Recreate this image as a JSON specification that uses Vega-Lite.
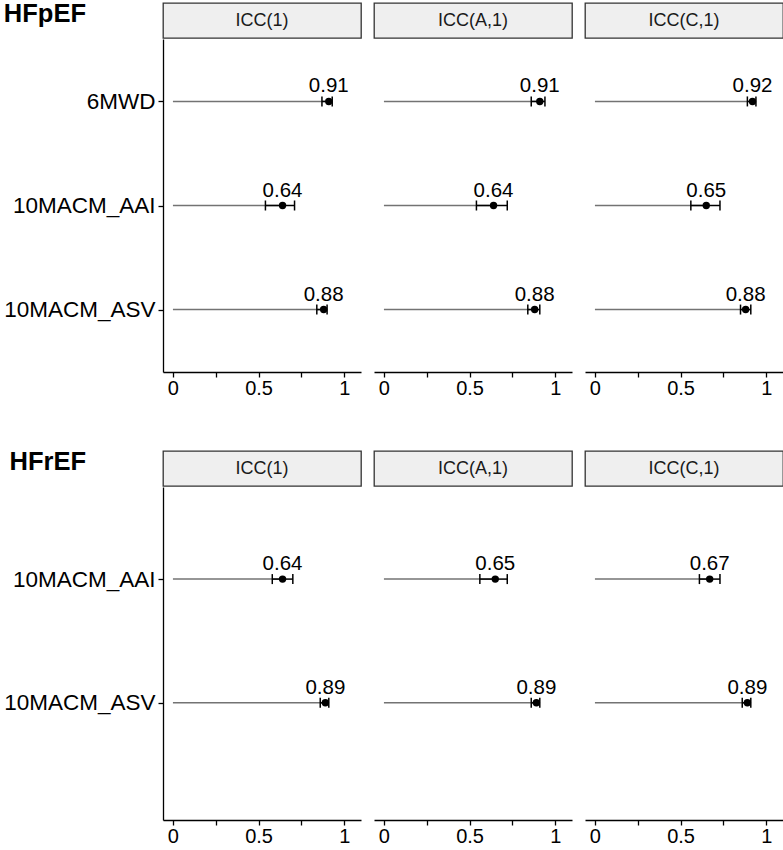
{
  "$schema": "https://vega.github.io/schema/vega-lite/v6.json",
  "background": "white",
  "padding": {"left": 3, "top": 1, "right": 0, "bottom": 0},
  "datasets": {
    "pef": [
      {"panel": "ICC(1)", "measure": "6MWD", "icc": 0.91, "lo": 0.87, "hi": 0.93},
      {"panel": "ICC(1)", "measure": "10MACM_AAI", "icc": 0.64, "lo": 0.54, "hi": 0.71},
      {"panel": "ICC(1)", "measure": "10MACM_ASV", "icc": 0.88, "lo": 0.84, "hi": 0.9},
      {"panel": "ICC(A,1)", "measure": "6MWD", "icc": 0.91, "lo": 0.86, "hi": 0.94},
      {"panel": "ICC(A,1)", "measure": "10MACM_AAI", "icc": 0.64, "lo": 0.54, "hi": 0.72},
      {"panel": "ICC(A,1)", "measure": "10MACM_ASV", "icc": 0.88, "lo": 0.84, "hi": 0.91},
      {"panel": "ICC(C,1)", "measure": "6MWD", "icc": 0.92, "lo": 0.89, "hi": 0.94},
      {"panel": "ICC(C,1)", "measure": "10MACM_AAI", "icc": 0.65, "lo": 0.56, "hi": 0.73},
      {"panel": "ICC(C,1)", "measure": "10MACM_ASV", "icc": 0.88, "lo": 0.85, "hi": 0.91}
    ],
    "ref": [
      {"panel": "ICC(1)", "measure": "10MACM_AAI", "icc": 0.64, "lo": 0.58, "hi": 0.7},
      {"panel": "ICC(1)", "measure": "10MACM_ASV", "icc": 0.89, "lo": 0.86, "hi": 0.91},
      {"panel": "ICC(A,1)", "measure": "10MACM_AAI", "icc": 0.65, "lo": 0.56, "hi": 0.72},
      {"panel": "ICC(A,1)", "measure": "10MACM_ASV", "icc": 0.89, "lo": 0.86, "hi": 0.91},
      {"panel": "ICC(C,1)", "measure": "10MACM_AAI", "icc": 0.67, "lo": 0.61, "hi": 0.73},
      {"panel": "ICC(C,1)", "measure": "10MACM_ASV", "icc": 0.89, "lo": 0.86, "hi": 0.91}
    ]
  },
  "spacing": 51,
  "vconcat": [
    {
      "spacing": 11,
      "hconcat": [
        {
          "spacing": 0,
          "vconcat": [
            {"width": 198, "height": 35, "title": {"text": "HFpEF", "orient": "left", "angle": 0, "align": "left", "anchor": "middle", "baseline": "alphabetic", "offset": 77, "dy": 1.5, "fontSize": 25.5, "fontWeight": "bold", "color": "black"}, "view": {"fill": "#efefef", "stroke": "#333333", "strokeWidth": 1.3}, "data": {"values": [{"panel": "ICC(1)"}]}, "mark": {"type": "text", "fontSize": 18, "color": "#1a1a1a"}, "encoding": {"text": {"field": "panel", "type": "nominal"}}},
            {
              "width": 198, "height": 333,
              "data": {"name": "pef"},
              "transform": [{"filter": "datum.panel == 'ICC(1)'"}],
              "encoding": {"y": {"field": "measure", "type": "nominal", "sort": null, "title": null, "scale": {"type": "point", "padding": 0.6, "domain": ["6MWD", "10MACM_AAI", "10MACM_ASV"]}}},
              "layer": [
                {"mark": {"type": "rule", "color": "#737373", "strokeWidth": 1.5}, "encoding": {"x": {"field": "icc", "type": "quantitative", "title": null, "scale": {"domain": [-0.058, 1.098], "nice": false, "zero": false}, "axis": {"values": [0, 0.25, 0.5, 0.75, 1], "format": "~g", "labelExpr": "datum.value == 0.25 || datum.value == 0.75 ? '' : datum.label"}}, "x2": {"datum": 0}}},
                {"mark": {"type": "rule", "color": "black", "strokeWidth": 1.5}, "encoding": {"x": {"field": "lo", "type": "quantitative", "title": null}, "x2": {"field": "hi"}}},
                {"mark": {"type": "tick", "color": "black", "thickness": 1.5, "size": 10, "opacity": 1}, "encoding": {"x": {"field": "lo", "type": "quantitative", "title": null}}},
                {"mark": {"type": "tick", "color": "black", "thickness": 1.5, "size": 10, "opacity": 1}, "encoding": {"x": {"field": "hi", "type": "quantitative", "title": null}}},
                {"mark": {"type": "point", "filled": true, "color": "black", "size": 55, "opacity": 1}, "encoding": {"x": {"field": "icc", "type": "quantitative", "title": null}}},
                {"mark": {"type": "text", "dy": -9, "baseline": "alphabetic", "fontSize": 20.5, "color": "black"}, "encoding": {"x": {"field": "icc", "type": "quantitative", "title": null}, "text": {"field": "icc", "type": "quantitative", "format": ".2f"}}}
              ]
            }
          ]
        },
        {
          "spacing": 0,
          "vconcat": [
            {"width": 198, "height": 35, "view": {"fill": "#efefef", "stroke": "#333333", "strokeWidth": 1.3}, "data": {"values": [{"panel": "ICC(A,1)"}]}, "mark": {"type": "text", "fontSize": 18, "color": "#1a1a1a"}, "encoding": {"text": {"field": "panel", "type": "nominal"}}},
            {
              "width": 198, "height": 333,
              "data": {"name": "pef"},
              "transform": [{"filter": "datum.panel == 'ICC(A,1)'"}],
              "encoding": {"y": {"field": "measure", "type": "nominal", "sort": null, "title": null, "axis": null, "scale": {"type": "point", "padding": 0.6, "domain": ["6MWD", "10MACM_AAI", "10MACM_ASV"]}}},
              "layer": [
                {"mark": {"type": "rule", "color": "#737373", "strokeWidth": 1.5}, "encoding": {"x": {"field": "icc", "type": "quantitative", "title": null, "scale": {"domain": [-0.058, 1.098], "nice": false, "zero": false}, "axis": {"values": [0, 0.25, 0.5, 0.75, 1], "format": "~g", "labelExpr": "datum.value == 0.25 || datum.value == 0.75 ? '' : datum.label"}}, "x2": {"datum": 0}}},
                {"mark": {"type": "rule", "color": "black", "strokeWidth": 1.5}, "encoding": {"x": {"field": "lo", "type": "quantitative", "title": null}, "x2": {"field": "hi"}}},
                {"mark": {"type": "tick", "color": "black", "thickness": 1.5, "size": 10, "opacity": 1}, "encoding": {"x": {"field": "lo", "type": "quantitative", "title": null}}},
                {"mark": {"type": "tick", "color": "black", "thickness": 1.5, "size": 10, "opacity": 1}, "encoding": {"x": {"field": "hi", "type": "quantitative", "title": null}}},
                {"mark": {"type": "point", "filled": true, "color": "black", "size": 55, "opacity": 1}, "encoding": {"x": {"field": "icc", "type": "quantitative", "title": null}}},
                {"mark": {"type": "text", "dy": -9, "baseline": "alphabetic", "fontSize": 20.5, "color": "black"}, "encoding": {"x": {"field": "icc", "type": "quantitative", "title": null}, "text": {"field": "icc", "type": "quantitative", "format": ".2f"}}}
              ]
            }
          ]
        },
        {
          "spacing": 0,
          "vconcat": [
            {"width": 198, "height": 35, "view": {"fill": "#efefef", "stroke": "#333333", "strokeWidth": 1.3}, "data": {"values": [{"panel": "ICC(C,1)"}]}, "mark": {"type": "text", "fontSize": 18, "color": "#1a1a1a"}, "encoding": {"text": {"field": "panel", "type": "nominal"}}},
            {
              "width": 198, "height": 333,
              "data": {"name": "pef"},
              "transform": [{"filter": "datum.panel == 'ICC(C,1)'"}],
              "encoding": {"y": {"field": "measure", "type": "nominal", "sort": null, "title": null, "axis": null, "scale": {"type": "point", "padding": 0.6, "domain": ["6MWD", "10MACM_AAI", "10MACM_ASV"]}}},
              "layer": [
                {"mark": {"type": "rule", "color": "#737373", "strokeWidth": 1.5}, "encoding": {"x": {"field": "icc", "type": "quantitative", "title": null, "scale": {"domain": [-0.058, 1.098], "nice": false, "zero": false}, "axis": {"values": [0, 0.25, 0.5, 0.75, 1], "format": "~g", "labelExpr": "datum.value == 0.25 || datum.value == 0.75 ? '' : datum.label"}}, "x2": {"datum": 0}}},
                {"mark": {"type": "rule", "color": "black", "strokeWidth": 1.5}, "encoding": {"x": {"field": "lo", "type": "quantitative", "title": null}, "x2": {"field": "hi"}}},
                {"mark": {"type": "tick", "color": "black", "thickness": 1.5, "size": 10, "opacity": 1}, "encoding": {"x": {"field": "lo", "type": "quantitative", "title": null}}},
                {"mark": {"type": "tick", "color": "black", "thickness": 1.5, "size": 10, "opacity": 1}, "encoding": {"x": {"field": "hi", "type": "quantitative", "title": null}}},
                {"mark": {"type": "point", "filled": true, "color": "black", "size": 55, "opacity": 1}, "encoding": {"x": {"field": "icc", "type": "quantitative", "title": null}}},
                {"mark": {"type": "text", "dy": -9, "baseline": "alphabetic", "fontSize": 20.5, "color": "black"}, "encoding": {"x": {"field": "icc", "type": "quantitative", "title": null}, "text": {"field": "icc", "type": "quantitative", "format": ".2f"}}}
              ]
            }
          ]
        }
      ]
    },
    {
      "spacing": 11,
      "hconcat": [
        {
          "spacing": 0,
          "vconcat": [
            {"width": 198, "height": 35, "title": {"text": "HFrEF", "orient": "left", "angle": 0, "align": "left", "anchor": "middle", "baseline": "alphabetic", "offset": 77, "dy": 1.5, "fontSize": 25.5, "fontWeight": "bold", "color": "black"}, "view": {"fill": "#efefef", "stroke": "#333333", "strokeWidth": 1.3}, "data": {"values": [{"panel": "ICC(1)"}]}, "mark": {"type": "text", "fontSize": 18, "color": "#1a1a1a"}, "encoding": {"text": {"field": "panel", "type": "nominal"}}},
            {
              "width": 198, "height": 333,
              "data": {"name": "ref"},
              "transform": [{"filter": "datum.panel == 'ICC(1)'"}],
              "encoding": {"y": {"field": "measure", "type": "nominal", "sort": null, "title": null, "scale": {"type": "point", "padding": 0.846, "align": 0.44, "domain": ["10MACM_AAI", "10MACM_ASV"]}}},
              "layer": [
                {"mark": {"type": "rule", "color": "#737373", "strokeWidth": 1.5}, "encoding": {"x": {"field": "icc", "type": "quantitative", "title": null, "scale": {"domain": [-0.058, 1.098], "nice": false, "zero": false}, "axis": {"values": [0, 0.25, 0.5, 0.75, 1], "format": "~g", "labelExpr": "datum.value == 0.25 || datum.value == 0.75 ? '' : datum.label"}}, "x2": {"datum": 0}}},
                {"mark": {"type": "rule", "color": "black", "strokeWidth": 1.5}, "encoding": {"x": {"field": "lo", "type": "quantitative", "title": null}, "x2": {"field": "hi"}}},
                {"mark": {"type": "tick", "color": "black", "thickness": 1.5, "size": 10, "opacity": 1}, "encoding": {"x": {"field": "lo", "type": "quantitative", "title": null}}},
                {"mark": {"type": "tick", "color": "black", "thickness": 1.5, "size": 10, "opacity": 1}, "encoding": {"x": {"field": "hi", "type": "quantitative", "title": null}}},
                {"mark": {"type": "point", "filled": true, "color": "black", "size": 55, "opacity": 1}, "encoding": {"x": {"field": "icc", "type": "quantitative", "title": null}}},
                {"mark": {"type": "text", "dy": -9, "baseline": "alphabetic", "fontSize": 20.5, "color": "black"}, "encoding": {"x": {"field": "icc", "type": "quantitative", "title": null}, "text": {"field": "icc", "type": "quantitative", "format": ".2f"}}}
              ]
            }
          ]
        },
        {
          "spacing": 0,
          "vconcat": [
            {"width": 198, "height": 35, "view": {"fill": "#efefef", "stroke": "#333333", "strokeWidth": 1.3}, "data": {"values": [{"panel": "ICC(A,1)"}]}, "mark": {"type": "text", "fontSize": 18, "color": "#1a1a1a"}, "encoding": {"text": {"field": "panel", "type": "nominal"}}},
            {
              "width": 198, "height": 333,
              "data": {"name": "ref"},
              "transform": [{"filter": "datum.panel == 'ICC(A,1)'"}],
              "encoding": {"y": {"field": "measure", "type": "nominal", "sort": null, "title": null, "axis": null, "scale": {"type": "point", "padding": 0.846, "align": 0.44, "domain": ["10MACM_AAI", "10MACM_ASV"]}}},
              "layer": [
                {"mark": {"type": "rule", "color": "#737373", "strokeWidth": 1.5}, "encoding": {"x": {"field": "icc", "type": "quantitative", "title": null, "scale": {"domain": [-0.058, 1.098], "nice": false, "zero": false}, "axis": {"values": [0, 0.25, 0.5, 0.75, 1], "format": "~g", "labelExpr": "datum.value == 0.25 || datum.value == 0.75 ? '' : datum.label"}}, "x2": {"datum": 0}}},
                {"mark": {"type": "rule", "color": "black", "strokeWidth": 1.5}, "encoding": {"x": {"field": "lo", "type": "quantitative", "title": null}, "x2": {"field": "hi"}}},
                {"mark": {"type": "tick", "color": "black", "thickness": 1.5, "size": 10, "opacity": 1}, "encoding": {"x": {"field": "lo", "type": "quantitative", "title": null}}},
                {"mark": {"type": "tick", "color": "black", "thickness": 1.5, "size": 10, "opacity": 1}, "encoding": {"x": {"field": "hi", "type": "quantitative", "title": null}}},
                {"mark": {"type": "point", "filled": true, "color": "black", "size": 55, "opacity": 1}, "encoding": {"x": {"field": "icc", "type": "quantitative", "title": null}}},
                {"mark": {"type": "text", "dy": -9, "baseline": "alphabetic", "fontSize": 20.5, "color": "black"}, "encoding": {"x": {"field": "icc", "type": "quantitative", "title": null}, "text": {"field": "icc", "type": "quantitative", "format": ".2f"}}}
              ]
            }
          ]
        },
        {
          "spacing": 0,
          "vconcat": [
            {"width": 198, "height": 35, "view": {"fill": "#efefef", "stroke": "#333333", "strokeWidth": 1.3}, "data": {"values": [{"panel": "ICC(C,1)"}]}, "mark": {"type": "text", "fontSize": 18, "color": "#1a1a1a"}, "encoding": {"text": {"field": "panel", "type": "nominal"}}},
            {
              "width": 198, "height": 333,
              "data": {"name": "ref"},
              "transform": [{"filter": "datum.panel == 'ICC(C,1)'"}],
              "encoding": {"y": {"field": "measure", "type": "nominal", "sort": null, "title": null, "axis": null, "scale": {"type": "point", "padding": 0.846, "align": 0.44, "domain": ["10MACM_AAI", "10MACM_ASV"]}}},
              "layer": [
                {"mark": {"type": "rule", "color": "#737373", "strokeWidth": 1.5}, "encoding": {"x": {"field": "icc", "type": "quantitative", "title": null, "scale": {"domain": [-0.058, 1.098], "nice": false, "zero": false}, "axis": {"values": [0, 0.25, 0.5, 0.75, 1], "format": "~g", "labelExpr": "datum.value == 0.25 || datum.value == 0.75 ? '' : datum.label"}}, "x2": {"datum": 0}}},
                {"mark": {"type": "rule", "color": "black", "strokeWidth": 1.5}, "encoding": {"x": {"field": "lo", "type": "quantitative", "title": null}, "x2": {"field": "hi"}}},
                {"mark": {"type": "tick", "color": "black", "thickness": 1.5, "size": 10, "opacity": 1}, "encoding": {"x": {"field": "lo", "type": "quantitative", "title": null}}},
                {"mark": {"type": "tick", "color": "black", "thickness": 1.5, "size": 10, "opacity": 1}, "encoding": {"x": {"field": "hi", "type": "quantitative", "title": null}}},
                {"mark": {"type": "point", "filled": true, "color": "black", "size": 55, "opacity": 1}, "encoding": {"x": {"field": "icc", "type": "quantitative", "title": null}}},
                {"mark": {"type": "text", "dy": -9, "baseline": "alphabetic", "fontSize": 20.5, "color": "black"}, "encoding": {"x": {"field": "icc", "type": "quantitative", "title": null}, "text": {"field": "icc", "type": "quantitative", "format": ".2f"}}}
              ]
            }
          ]
        }
      ]
    }
  ],
  "config": {
    "font": "Liberation Sans",
    "view": {"stroke": null},
    "axis": {"grid": false, "domainColor": "black", "domainWidth": 1.3, "tickColor": "black", "tickWidth": 1.3, "tickSize": 5, "labelColor": "black"},
    "axisX": {"labelFontSize": 20, "labelPadding": 1, "labelFlush": false, "labelOverlap": false},
    "axisY": {"labelFontSize": 22.5, "labelPadding": 3}
  }
}
